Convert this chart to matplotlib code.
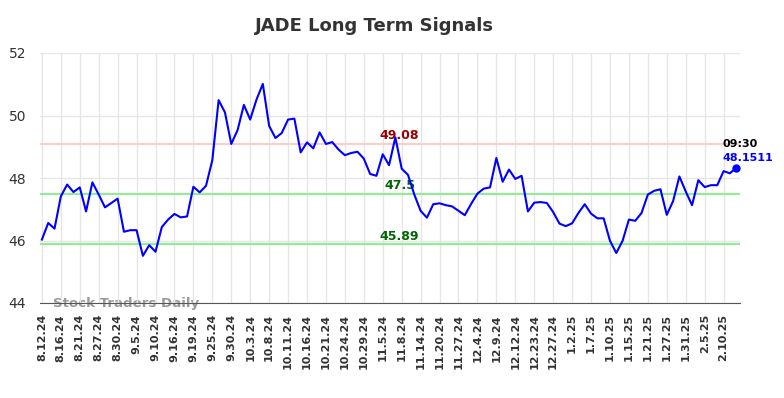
import numpy as np
import matplotlib
matplotlib.use("Agg")
import matplotlib.pyplot as plt

# Tick labels (one every 3 points)
tick_labels = [
    "8.12.24", "8.16.24", "8.21.24", "8.27.24", "8.30.24", "9.5.24", "9.10.24",
    "9.16.24", "9.19.24", "9.25.24", "9.30.24", "10.3.24", "10.8.24", "10.11.24",
    "10.16.24", "10.21.24", "10.24.24", "10.29.24", "11.5.24", "11.8.24",
    "11.14.24", "11.20.24", "11.27.24", "12.4.24", "12.9.24", "12.12.24",
    "12.23.24", "12.27.24", "1.2.25", "1.7.25", "1.10.25", "1.15.25", "1.21.25",
    "1.27.25", "1.31.25", "2.5.25", "2.10.25",
]

prices = [
    46.03, 46.56, 46.38, 47.41, 47.79, 47.55, 47.70, 46.93, 47.86, 47.47,
    47.06, 47.20, 47.34, 46.28, 46.33, 46.33, 45.51, 45.85, 45.64, 46.43,
    46.67, 46.85, 46.74, 46.77, 47.72, 47.54, 47.75, 48.57, 50.49, 50.10,
    49.09, 49.53, 50.34, 49.87, 50.51, 51.01, 49.67, 49.28, 49.44, 49.87,
    49.90, 48.82, 49.14, 48.95, 49.46, 49.09, 49.15, 48.91, 48.73, 48.80,
    48.84, 48.62, 48.13, 48.07, 48.76, 48.41, 49.30, 48.30, 48.10, 47.47,
    46.95, 46.73, 47.16, 47.19, 47.13, 47.09, 46.95, 46.81, 47.17, 47.50,
    47.66, 47.70, 48.64, 47.88, 48.27, 47.97, 48.07, 46.93, 47.21, 47.23,
    47.20, 46.91, 46.54, 46.46, 46.55, 46.88, 47.16, 46.86, 46.71, 46.71,
    45.99, 45.60, 45.99, 46.67, 46.63, 46.88, 47.47, 47.59, 47.64, 46.82,
    47.26, 48.05, 47.57, 47.13, 47.93, 47.71, 47.77, 47.77, 48.22, 48.15,
    48.33,
]

resistance = 49.08
support_levels = [47.5, 45.89]
last_time = "09:30"
last_label = "48.1511"

x = np.arange(len(prices))

fig = plt.figure(figsize=(7.84, 3.98), dpi=100)
ax = fig.add_axes([40 / 784, 95 / 398, 700 / 784, 250 / 398])

ax.plot(x, prices, color="blue", linewidth=1.5, zorder=3)
ax.plot(x[-1], prices[-1], "o", color="blue", markersize=5, zorder=4)

ax.axhline(resistance, color="#ffcccc", linewidth=1.5, zorder=2)
for lvl in support_levels:
    ax.axhline(lvl, color="#90ee90", linewidth=1.5, zorder=2)

# level labels sit just above their lines, under the price line
mid = 56.65
ax.text(mid, resistance + 0.06, f"{resistance:.2f}", color="#990000",
        fontsize=9, fontweight="bold", ha="center", va="bottom", zorder=2.5)
ax.text(mid, support_levels[0] + 0.06, "47.5", color="#006600",
        fontsize=9, fontweight="bold", ha="center", va="bottom", zorder=2.5)
ax.text(mid, support_levels[1] + 0.04, f"{support_levels[1]:.2f}", color="#006600",
        fontsize=9, fontweight="bold", ha="center", va="bottom", zorder=2.5)

ax.text(x[-1] - 2.2, 49.08, last_time, color="black", fontsize=8,
        fontweight="bold", ha="left", va="center")
ax.text(x[-1] - 2.2, 48.63, last_label, color="blue", fontsize=8,
        fontweight="bold", ha="left", va="center")

ax.text(1.8, 44.0, "Stock Traders Daily", color="#999999", fontsize=9.6,
        fontweight="bold", ha="left", va="center", zorder=1)

ax.set_xlim(-0.3, 110.6)
ax.set_ylim(44, 52)
ax.set_yticks([44, 46, 48, 50, 52])
ax.set_xticks(np.arange(0, 3 * len(tick_labels), 3))
ax.set_xticklabels(tick_labels, rotation=90, fontsize=8, fontweight="bold")
ax.tick_params(axis="both", length=0, colors="#333333")
ax.tick_params(axis="y", labelsize=10, pad=10)
ax.tick_params(axis="x", pad=8)
ax.grid(True, color="#e6e6e6", linewidth=1, zorder=0)

for side in ["top", "right", "left"]:
    ax.spines[side].set_visible(False)
ax.spines["bottom"].set_color("#555555")
ax.spines["bottom"].set_zorder(6)

fig.text(374 / 784, 1 - 26 / 398, "JADE Long Term Signals", fontsize=13,
         fontweight="bold", color="#333333", ha="center", va="center")

fig.savefig("out.png", dpi=100)
